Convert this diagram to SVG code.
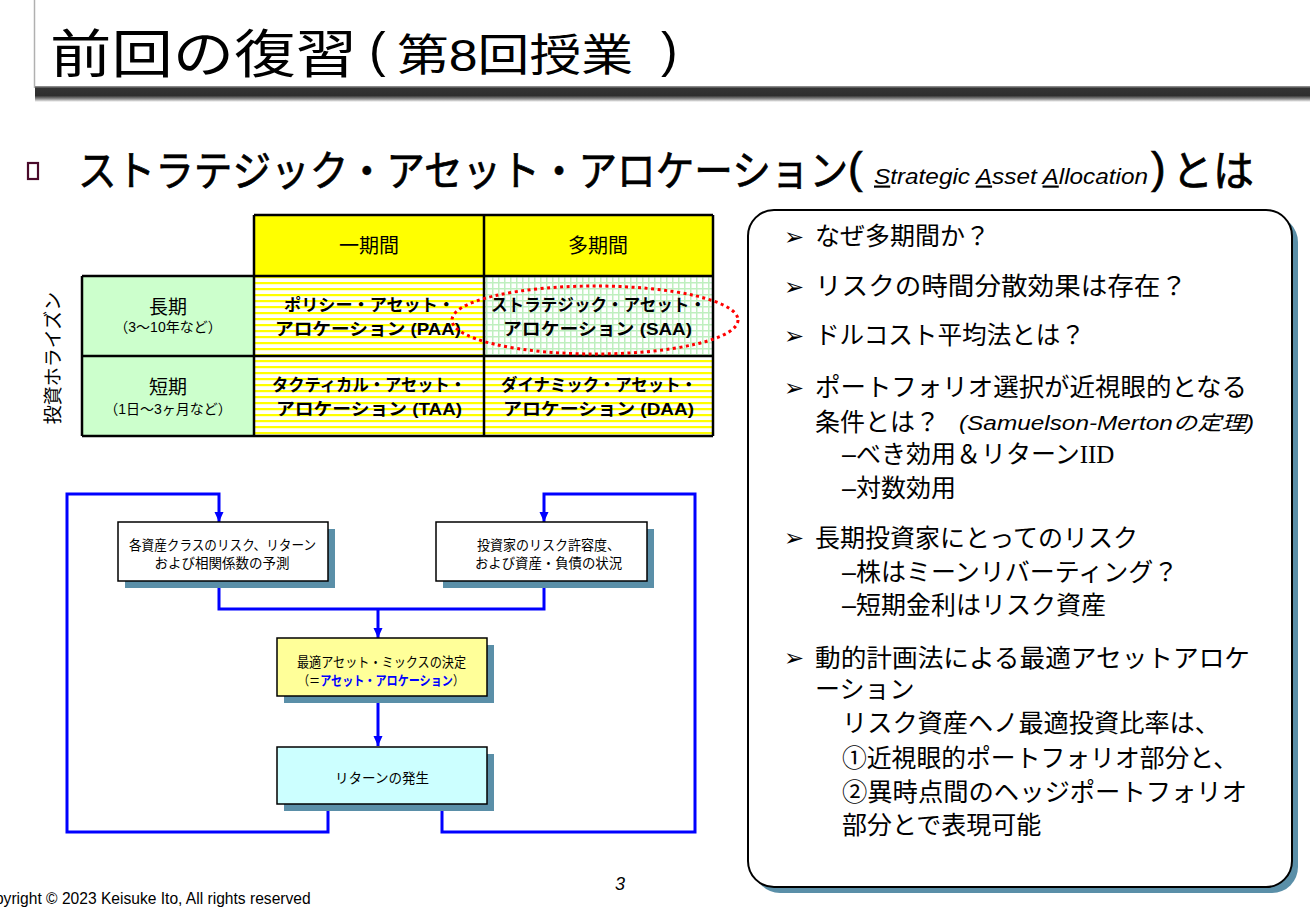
<svg xmlns="http://www.w3.org/2000/svg" width="1310" height="908" viewBox="0 0 1310 908">
<defs>
<style>
.jp{font-family:'Liberation Sans','Noto Sans CJK JP',sans-serif;fill:#000}
.b{font-weight:bold}
.mid{text-anchor:middle}
.grid{stroke:#000;stroke-width:2.5;fill:none}
.flow{stroke:#0000FF;stroke-width:3;fill:none}
.shadow{fill:#5A8FA8}
.box{stroke:#000;stroke-width:1.5}
.panel{font-size:25px}
.bul{font-family:'DejaVu Sans',sans-serif;font-size:24px;fill:#000}
.heavy{stroke:#000;stroke-width:0.7}
</style>
<linearGradient id="bar" x1="0" y1="0" x2="0" y2="1">
<stop offset="0" stop-color="#a0a0a0"/>
<stop offset="0.15" stop-color="#333"/>
<stop offset="0.6" stop-color="#2e2e2e"/>
<stop offset="0.8" stop-color="#8a8a8a"/>
<stop offset="1" stop-color="#fff"/>
</linearGradient>
<pattern id="stripes" width="8" height="6" patternUnits="userSpaceOnUse">
<rect width="8" height="6" fill="#fff"/>
<rect width="8" height="2.2" fill="#FFFF00"/>
</pattern>
<pattern id="gridp" width="6" height="6" patternUnits="userSpaceOnUse">
<rect width="6" height="6" fill="#BFEFBF"/>
<rect x="1.5" y="1.5" width="4.5" height="4.5" fill="#fff"/>
</pattern>
<marker id="arr" markerWidth="10" markerHeight="10" refX="10" refY="5" orient="auto" markerUnits="userSpaceOnUse">
<path d="M0,0.5 L10,5 L0,9.5 z" fill="#0000FF"/>
</marker>
</defs>
<rect width="1310" height="908" fill="#fff"/>

<g id="title">
<line x1="34.5" y1="0" x2="34.5" y2="88" stroke="#b0b0b0" stroke-width="1.5"/>
<rect x="35" y="86" width="1275" height="16" fill="url(#bar)"/>
<text class="jp" x="50" y="73" font-size="52" textLength="307" lengthAdjust="spacingAndGlyphs">前回の復習</text>
<text x="369" y="67" font-family="Liberation Sans,sans-serif" font-size="50">(</text>
<text class="jp" x="397" y="71" font-size="44" textLength="236" lengthAdjust="spacingAndGlyphs">第8回授業</text>
<text x="661" y="67" font-family="Liberation Sans,sans-serif" font-size="50">)</text>
</g>

<g id="subtitle">
<rect x="28" y="163" width="10" height="16" fill="none" stroke="#4A0A2A" stroke-width="2.2"/>
<text class="jp heavy" x="78" y="186" font-size="42" textLength="770" lengthAdjust="spacingAndGlyphs">ストラテジック・アセット・アロケーション</text>
<text class="heavy" x="848" y="183" font-family="Liberation Sans,sans-serif" font-size="44">(</text>
<text x="874" y="183.5" font-family="Liberation Sans,sans-serif" font-size="22" font-style="italic" textLength="274" lengthAdjust="spacingAndGlyphs"><tspan text-decoration="underline">S</tspan>trategic <tspan text-decoration="underline">A</tspan>sset <tspan text-decoration="underline">A</tspan>llocation</text>
<text class="heavy" x="1151" y="183" font-family="Liberation Sans,sans-serif" font-size="44">)</text>
<text class="jp heavy" x="1172" y="186" font-size="42" textLength="82" lengthAdjust="spacingAndGlyphs">とは</text>
</g>

<g id="table">
<rect x="254" y="215" width="459" height="61" fill="#FFFF00"/>
<rect x="82" y="276" width="172" height="160" fill="#CCFFCC"/>
<rect x="254" y="276" width="230" height="160" fill="url(#stripes)"/>
<rect x="484" y="356" width="229" height="80" fill="url(#stripes)"/>
<rect x="484" y="276" width="229" height="80" fill="url(#gridp)"/>
<path class="grid" d="M254,215 H713 M82,276 H713 M82,356 H713 M82,436 H713 M82,276 V436 M254,215 V436 M484,215 V436 M713,215 V436"/>
<text class="jp mid" x="369" y="253" font-size="20">一期間</text>
<text class="jp mid" x="598" y="253" font-size="20">多期間</text>
<text class="jp mid" x="168" y="314" font-size="19">長期</text>
<text class="jp mid" x="168" y="332" font-size="14">（3〜10年など）</text>
<text class="jp mid" x="168" y="394" font-size="19">短期</text>
<text class="jp mid" x="168" y="414" font-size="14">（1日〜3ヶ月など）</text>
<text class="jp b" x="284" y="311" font-size="17" textLength="171" lengthAdjust="spacingAndGlyphs">ポリシー・アセット・</text>
<text class="jp b" x="275" y="335" font-size="17" textLength="186" lengthAdjust="spacingAndGlyphs">アロケーション (PAA)</text>
<text class="jp b" x="491" y="311" font-size="17" textLength="215" lengthAdjust="spacingAndGlyphs">ストラテジック・アセット・</text>
<text class="jp b" x="503" y="335" font-size="17" textLength="189" lengthAdjust="spacingAndGlyphs">アロケーション (SAA)</text>
<text class="jp b" x="272" y="391" font-size="17" textLength="194" lengthAdjust="spacingAndGlyphs">タクティカル・アセット・</text>
<text class="jp b" x="276" y="415" font-size="17" textLength="186" lengthAdjust="spacingAndGlyphs">アロケーション (TAA)</text>
<text class="jp b" x="501" y="391" font-size="17" textLength="196" lengthAdjust="spacingAndGlyphs">ダイナミック・アセット・</text>
<text class="jp b" x="503" y="415" font-size="17" textLength="191" lengthAdjust="spacingAndGlyphs">アロケーション (DAA)</text>
<text class="jp mid" transform="translate(60,358) rotate(-90)" font-size="19">投資ホライズン</text>
<ellipse cx="595" cy="320" rx="143" ry="34" fill="none" stroke="#FF0000" stroke-width="3" stroke-dasharray="3 3.5"/>
</g>

<g id="connectors">
<path class="flow" d="M328,804 V832 H67 V494 H219 V522" marker-end="url(#arr)"/>
<path class="flow" d="M442,804 V832 H695 V494 H544 V522" marker-end="url(#arr)"/>
<path class="flow" d="M219,581 V609 H544 V581"/>
<path class="flow" d="M378,609 V638" marker-end="url(#arr)"/>
<path class="flow" d="M378,697 V746" marker-end="url(#arr)"/>
</g>

<g id="node-forecast">
<rect class="shadow" x="125" y="529" width="210" height="59"/>
<rect class="box" x="118" y="522" width="210" height="59" fill="#fff"/>
<text class="jp" x="129" y="550" font-size="13.5" textLength="187" lengthAdjust="spacingAndGlyphs">各資産クラスのリスク、リターン</text>
<text class="jp mid" x="222" y="568" font-size="13.5">および相関係数の予測</text>
</g>

<g id="node-investor">
<rect class="shadow" x="443" y="529" width="211" height="59"/>
<rect class="box" x="436" y="522" width="211" height="59" fill="#fff"/>
<text class="jp" x="477" y="550" font-size="13.5" textLength="143" lengthAdjust="spacingAndGlyphs">投資家のリスク許容度、</text>
<text class="jp" x="475" y="568" font-size="13.5" textLength="147" lengthAdjust="spacingAndGlyphs">および資産・負債の状況</text>
</g>

<g id="node-mix">
<rect class="shadow" x="284" y="645" width="210" height="58"/>
<rect class="box" x="277" y="638" width="210" height="58" fill="#FFFF99"/>
<text class="jp" x="297" y="667" font-size="13.5" textLength="169" lengthAdjust="spacingAndGlyphs">最適アセット・ミックスの決定</text>
<text class="jp" x="298" y="685" font-size="13" textLength="166" lengthAdjust="spacingAndGlyphs">（＝<tspan font-weight="bold" fill="#0000FF">アセット・アロケーション</tspan>）</text>
</g>

<g id="node-return">
<rect class="shadow" x="284" y="754" width="210" height="57"/>
<rect class="box" x="277" y="747" width="210" height="57" fill="#CCFFFF"/>
<text class="jp mid" x="382" y="783" font-size="13.5">リターンの発生</text>
</g>

<g id="panel">
<rect x="754" y="216" width="544" height="677" rx="26" fill="#5A8FA8"/>
<rect x="748" y="210" width="544" height="677" rx="26" fill="#fff" stroke="#000" stroke-width="2"/>
<g class="bul">
<text x="784" y="245">➢</text>
<text x="784" y="295">➢</text>
<text x="784" y="344">➢</text>
<text x="784" y="396">➢</text>
<text x="784" y="546">➢</text>
<text x="784" y="666">➢</text>
</g>
<g class="jp panel">
<text x="815" y="245">なぜ多期間か？</text>
<text x="815" y="295" textLength="372" lengthAdjust="spacingAndGlyphs">リスクの時間分散効果は存在？</text>
<text x="815" y="344" textLength="270" lengthAdjust="spacingAndGlyphs">ドルコスト平均法とは？</text>
<text x="815" y="396" textLength="432" lengthAdjust="spacingAndGlyphs">ポートフォリオ選択が近視眼的となる</text>
<text x="815" y="431">条件とは？</text>
<text x="842" y="463">–べき効用＆リターン<tspan font-family="Liberation Serif,serif">IID</tspan></text>
<text x="842" y="497">–対数効用</text>
<text x="815" y="547">長期投資家にとってのリスク</text>
<text x="842" y="581">–株はミーンリバーティング？</text>
<text x="842" y="614">–短期金利はリスク資産</text>
<text x="815" y="667" textLength="435" lengthAdjust="spacingAndGlyphs">動的計画法による最適アセットアロケ</text>
<text x="815" y="698">ーション</text>
<text x="842" y="732" textLength="378" lengthAdjust="spacingAndGlyphs">リスク資産ヘノ最適投資比率は、</text>
<text x="842" y="767" textLength="396" lengthAdjust="spacingAndGlyphs">①近視眼的ポートフォリオ部分と、</text>
<text x="842" y="801" textLength="405" lengthAdjust="spacingAndGlyphs">②異時点間のヘッジポートフォリオ</text>
<text x="842" y="834">部分とで表現可能</text>
</g>
<text class="jp" x="959" y="430" font-size="20" font-style="italic" textLength="295" lengthAdjust="spacingAndGlyphs">(Samuelson-Mertonの定理)</text>
</g>

<g id="footer">
<text x="-25" y="904" font-family="Liberation Sans,sans-serif" font-size="15.6">Copyright © 2023 Keisuke Ito, All rights reserved</text>
<text x="615" y="890" font-family="Liberation Sans,sans-serif" font-size="18" font-style="italic">3</text>
</g>
</svg>
